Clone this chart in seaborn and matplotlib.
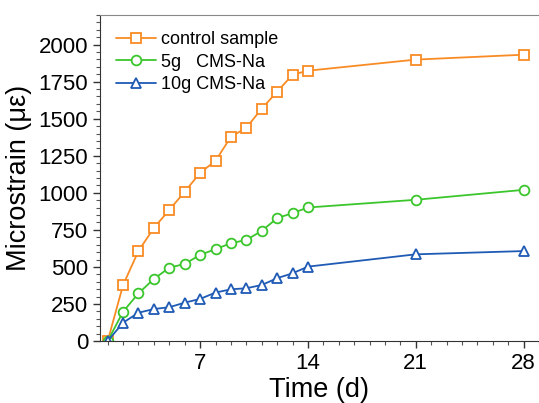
import matplotlib
matplotlib.use("Agg")
import matplotlib.pyplot as plt
import seaborn as sns
import pandas as pd
from matplotlib.ticker import MultipleLocator

days = [1, 2, 3, 4, 5, 6, 7, 8, 9, 10, 11, 12, 13, 14, 21, 28]
control = [0, 378, 608, 763, 885, 1007, 1135, 1216, 1378, 1439, 1568, 1682, 1797, 1824, 1899, 1932]
cms5 = [0, 198, 322, 419, 495, 520, 581, 620, 660, 682, 743, 829, 863, 901, 953, 1020]
cms10 = [0, 124, 191, 216, 228, 259, 284, 327, 349, 356, 378, 424, 457, 502, 585, 607]

labels = ["control sample", "5g   CMS-Na", "10g CMS-Na"]
colors = ["#F98B25", "#3BC62C", "#1F5BB5"]
markers = ["s", "o", "^"]

sns.set_style("ticks")
plt.rcParams["font.family"] = ["Liberation Sans", "DejaVu Sans"]
plt.rcParams["text.color"] = "black"
plt.rcParams["axes.labelcolor"] = "black"
plt.rcParams["xtick.labelcolor"] = "black"
plt.rcParams["ytick.labelcolor"] = "black"

fig = plt.figure(figsize=(5.39, 4.03), dpi=100)
ax = fig.add_axes([0.1855, 0.1538, 0.8145, 0.809])

for vals, lab, col, mk in zip([control, cms5, cms10], labels, colors, markers):
    df = pd.DataFrame({"day": days, "strain": vals})
    sns.lineplot(data=df, x="day", y="strain", ax=ax, color=col, label=lab,
                 marker=mk, markersize=7, markerfacecolor="white",
                 markeredgecolor=col, markeredgewidth=1.3, linewidth=1.3)

ax.set_xlim(0.5, 29)
ax.set_ylim(0, 2200)
ax.set_xticks([7, 14, 21, 28])
ax.xaxis.set_minor_locator(MultipleLocator(1))
ax.set_yticks(range(0, 2001, 250))
ax.yaxis.set_minor_locator(MultipleLocator(50))
ax.tick_params(which="major", length=5, width=1, labelsize=16, color="#333333")
ax.tick_params(which="minor", length=3, width=0.8, color="#555555")

ax.set_xlabel("Time (d)", fontsize=19.5, labelpad=2)
ax.set_ylabel("Microstrain (με)", fontsize=19.5, labelpad=5)

for s in ["left", "bottom"]:
    ax.spines[s].set_color("#333333")
ax.spines["top"].set_visible(True)
ax.spines["top"].set_color("#888888")
ax.spines["right"].set_visible(False)

leg = ax.legend(loc="upper left", frameon=False, fontsize=13, handlelength=2.2,
                handletextpad=0.3, labelspacing=0.3, borderaxespad=0.5,
                borderpad=0.4)

fig.savefig("out.png", dpi=100)
